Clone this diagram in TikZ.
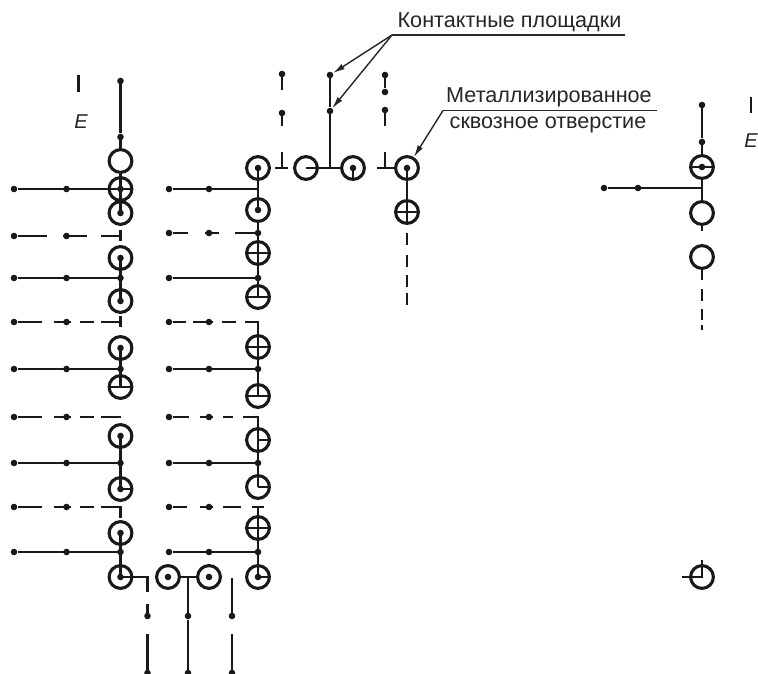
\documentclass[tikz,border=0pt]{standalone}
\usepackage{fontspec}
\setmainfont{Liberation Sans}
\usetikzlibrary{arrows.meta}
\begin{document}
\begin{tikzpicture}[x=1pt,y=-1pt,
  wire/.style={line width=2.2pt,black!90},
  pad/.style={circle,fill=black!90,inner sep=0pt,minimum size=6.6pt},
  via/.style={circle,draw=black!90,line width=3.1pt,inner sep=0pt,minimum size=22.8pt},
  lbl/.style={font=\fontsize{21.6pt}{24pt}\selectfont,text=black!85,inner sep=0pt},
  sym/.style={font=\fontsize{20pt}{24pt}\selectfont\itshape,text=black!85,inner sep=0pt},
  lead/.style={line width=1.4pt,black!85},
  arr/.style={line width=1.4pt,black!85,-{Latex[length=12pt,width=6pt]}}
]
\useasboundingbox (0,0) rectangle (758,674);
\fill[white] (0,0) rectangle (758,674);
\def\V#1#2#3{\node[via] (#1) at (#2,#3) {};}
\def\dotc#1{\node[pad] at (#1) {};}
\def\up#1{\draw[wire] (#1.center) -- (#1.north);}
\def\dn#1{\draw[wire] (#1.center) -- (#1.south);}
\def\lf#1{\draw[wire] (#1.center) -- (#1.west);}
\def\rt#1{\draw[wire] (#1.center) -- (#1.east);}
% ---- left column
\V{a1}{120.5}{161}\V{a2}{120.5}{189}\V{a3}{120.5}{213}\V{a4}{120.5}{258}\V{a5}{120.5}{301}\V{a6}{120.5}{348}
\V{a7}{120.5}{387}\V{a8}{120.5}{436}\V{a9}{120.5}{489}\V{a10}{120.5}{533}\V{a11}{120.5}{577}
\up{a2}\dn{a2}\lf{a2}\rt{a2}\dotc{a2}
\up{a3}\dotc{a3}
\dn{a4}\dotc{a4}
\up{a5}\dotc{a5}
\dn{a6}\dotc{a6}
\up{a7}\lf{a7}\rt{a7}
\dn{a8}\dotc{a8}
\up{a9}\rt{a9}\dotc{a9}
\dn{a10}\dotc{a10}
\up{a11}\rt{a11}\dotc{a11}
\node[pad] (at) at (120.5,81) {};
\node[pad] (am) at (120.5,137) {};
\draw[wire] (at) -- (am) -- (a1);
\draw[wire] (a1) -- (a2);
\draw[wire] (a2) -- (a3);
\draw[wire] (a4) -- (a5);
\draw[wire] (a6) -- (a7);
\draw[wire] (a8) -- (a9);
\draw[wire] (a10) -- (a11);
\foreach \n/\y in {b1/189,b2/278,b3/369,b4/463,b5/552}{
  \node[pad] (\n l) at (14,\y) {};
  \node[pad] (\n m) at (66.5,\y) {};
  \coordinate (\n e) at (120.5,\y);
  \draw[wire] (\n l) -- (\n e);
}
\node[pad] at (b2e) {};\node[pad] at (b3e) {};\node[pad] at (b4e) {};\node[pad] at (b5e) {};
% left-column dashed wires
\node[pad] (d1l) at (14,236) {};\node[pad] (d1m) at (66.5,236) {};
\draw[wire] (d1l) -- (47,236);\draw[wire] (63,236) -- (87,236);\draw[wire] (101,236) -- (120.5,236);
\draw[wire] (120.5,230) -- (120.5,241);
\node[pad] (d2l) at (14,322) {};\node[pad] (d2m) at (66.5,322) {};
\draw[wire] (d2l) -- (42,322);\draw[wire] (54,322) -- (71,322);\draw[wire] (80,322) -- (94,322);\draw[wire] (101,322) -- (120.5,322);
\draw[wire] (120.5,316) -- (120.5,327);
\node[pad] (d3l) at (14,417) {};\node[pad] (d3m) at (66.5,417) {};
\draw[wire] (d3l) -- (42,417);\draw[wire] (54,417) -- (71,417);\draw[wire] (80,417) -- (94,417);\draw[wire] (101,417) -- (120.5,417);
\node[pad] (d4l) at (14,507) {};\node[pad] (d4m) at (66.5,507) {};
\draw[wire] (d4l) -- (42,507);\draw[wire] (54,507) -- (71,507);\draw[wire] (80,507) -- (94,507);\draw[wire] (101,507) -- (120.5,507) -- (120.5,518);
% ---- second column
\V{c1}{258}{168}\V{c2}{258}{210}\V{c3}{258}{253}\V{c4}{258}{297}\V{c5}{258}{347}
\V{c6}{258}{396}\V{c7}{258}{440}\V{c8}{258}{487}\V{c9}{258}{528}\V{c10}{258}{577}
\dn{c1}\dotc{c1}
\up{c2}\dotc{c2}
\up{c3}\dn{c3}\lf{c3}\rt{c3}
\up{c4}\lf{c4}\rt{c4}
\up{c5}\dn{c5}\lf{c5}\rt{c5}
\up{c6}\lf{c6}\rt{c6}
\up{c7}\dn{c7}\rt{c7}
\up{c8}\rt{c8}
\up{c9}\dn{c9}\lf{c9}\rt{c9}
\up{c10}\rt{c10}\dotc{c10}
\draw[wire] (c1) -- (c2);
\draw[wire] (c2) -- (c3);
\draw[wire] (c3) -- (c4);
\draw[wire] (c5) -- (c6);
\draw[wire] (c7) -- (c8);
\draw[wire] (c9) -- (c10);
\foreach \n/\y in {e1/189,e2/278,e3/369,e4/463,e5/552}{
  \node[pad] (\n l) at (169,\y) {};
  \coordinate (\n e) at (258,\y);
  \draw[wire] (\n l) -- (\n e);
}
\foreach \n/\y in {e1/189,e3/369,e4/463,e5/552}{\node[pad] at (209,\y) {};}
\foreach \y in {233,278,369,463,552}{\node[pad] at (258,\y) {};}
\node[pad] (f1l) at (169,233) {};\node[pad] (f1m) at (209,233) {};
\draw[wire] (f1l) -- (188,233);\draw[wire] (205,233) -- (219,233);\draw[wire] (235,233) -- (258,233);
\node[pad] (f2l) at (169,322) {};\node[pad] (f2m) at (209,322) {};
\draw[wire] (f2l) -- (186,322);\draw[wire] (193,322) -- (213,322);\draw[wire] (222,322) -- (236,322);\draw[wire] (245,322) -- (258,322) -- (c5);
\node[pad] (f3l) at (169,417) {};\node[pad] (f3m) at (209,417) {};
\draw[wire] (f3l) -- (189,417);\draw[wire] (200,417) -- (213,417);\draw[wire] (223,417) -- (233,417);\draw[wire] (243,417) -- (258,417) -- (c7);
\node[pad] (f4l) at (169,507) {};\node[pad] (f4m) at (209,507) {};
\draw[wire] (f4l) -- (187,507);\draw[wire] (200,507) -- (213,507);\draw[wire] (223,507) -- (241,507);\draw[wire] (252,507) -- (264,507);\draw[wire] (258,507) -- (c9);
% ---- bottom
\V{g1}{168}{577}\V{g2}{209}{577}
\dotc{g1}\dotc{g2}
\draw[wire] (g1) -- (g2);
\coordinate (h0) at (147.5,577);
\node[pad] (h1) at (147.5,616) {};
\coordinate (h2) at (147.5,634);
\node[pad] (h3) at (147.5,673) {};
\draw[wire] (a11) -- (h0) -- (147.5,592);
\draw[wire] (147.5,604) -- (h1);
\draw[wire] (h2) -- (h3);
\coordinate (i0) at (188,577);
\node[pad] (i1) at (188,616) {};
\node[pad] (i2) at (188,673) {};
\draw[wire] (i0) -- (i1) -- (i2);
\coordinate (j0) at (232,578);
\node[pad] (j1) at (232,616) {};
\coordinate (j2) at (232,634);
\node[pad] (j3) at (232,673) {};
\draw[wire] (j0) -- (j1);
\draw[wire] (j2) -- (j3);
% ---- top group
\V{k1}{306}{168}\V{k2}{353}{168}\V{k3}{407}{168}\V{k4}{407}{212}
\up{k4}\dn{k4}\lf{k4}\rt{k4}
\dn{k2}\dotc{k2}\dotc{k3}\dn{k3}
\draw[wire] (c1) -- (268,168);
\draw[wire] (275,168) -- (288,168);
\draw[wire] (282,168) -- (282,152);
\node[pad] (m1) at (282,74) {};\node[pad] (m2) at (282,113) {};
\draw[wire] (m1) -- (282,90);\draw[wire] (m2) -- (282,126);
\draw[wire] (k1.center) -- (k2);
\node[pad] (n1) at (330,75) {};\node[pad] (n2) at (330,111) {};
\coordinate (n3) at (330,168);
\draw[wire] (n1) -- (n2) -- (n3);
\node[pad] (p1) at (385,75) {};\node[pad] (p2) at (385,92) {};\node[pad] (p3) at (385,110) {};
\draw[wire] (p1) -- (p2);\draw[wire] (p3) -- (385,126);
\draw[wire] (385,152) -- (385,168);\draw[wire] (377,168) -- (k3);
\draw[wire] (k3) -- (k4);
\draw[wire] (407,233) -- (407,245);\draw[wire] (407,255) -- (407,267);\draw[wire] (407,275) -- (407,287);\draw[wire] (407,293) -- (407,305);
% ---- right group
\V{q1}{702}{167}\V{q2}{702}{213}\V{q3}{702}{257}\V{q4}{702}{577}
\lf{q1}\rt{q1}\dotc{q1}
\node[pad] (r1) at (702,105) {};\node[pad] (r2) at (702,142) {};
\draw[wire] (r1) -- (r2) -- (q1);
\draw[wire] (q1) -- (q2);
\draw[wire] (q2.south) -- (702,231);
\draw[wire] (q3.south) -- (702,280);
\draw[wire] (702,289) -- (702,301);\draw[wire] (702,309) -- (702,320);\draw[wire] (702,325) -- (702,330);
\node[pad] (t1) at (604,188) {};\node[pad] (t2) at (638,188) {};
\coordinate (t3) at (702,188);
\draw[wire] (t1) -- (t3);
\coordinate (w1) at (682,577);\coordinate (w2) at (702,560);
\draw[wire] (w1) -- (q4.center) -- (w2);
% ---- labels
\node[lbl,anchor=base] (lab1) at (509.5,28) {Контактные площадки};
\coordinate (u0) at (392,35);\coordinate (u1) at (625,35);
\draw[lead] (u0) -- (u1);
\draw[arr] (u0) -- (n1);
\draw[arr] (u0) -- (n2);
\node[lbl,anchor=base] (lab2) at (549,102.5) {Металлизированное};
\node[lbl,anchor=base] (lab3) at (548,129) {сквозное отверстие};
\coordinate (v0) at (443,110.5);\coordinate (v1) at (657,110.5);
\draw[lead] (v1) -- (v0);
\draw[arr] (v0) -- (k3);
% ---- symbols
\node[sym,anchor=base] (E1) at (81,129) {E};
\node[sym,anchor=base] (E2) at (751,148) {E};
\draw[wire] (78.5,75) -- (78.5,92);
\draw[wire] (751,97) -- (751,113);
\end{tikzpicture}
\end{document}
